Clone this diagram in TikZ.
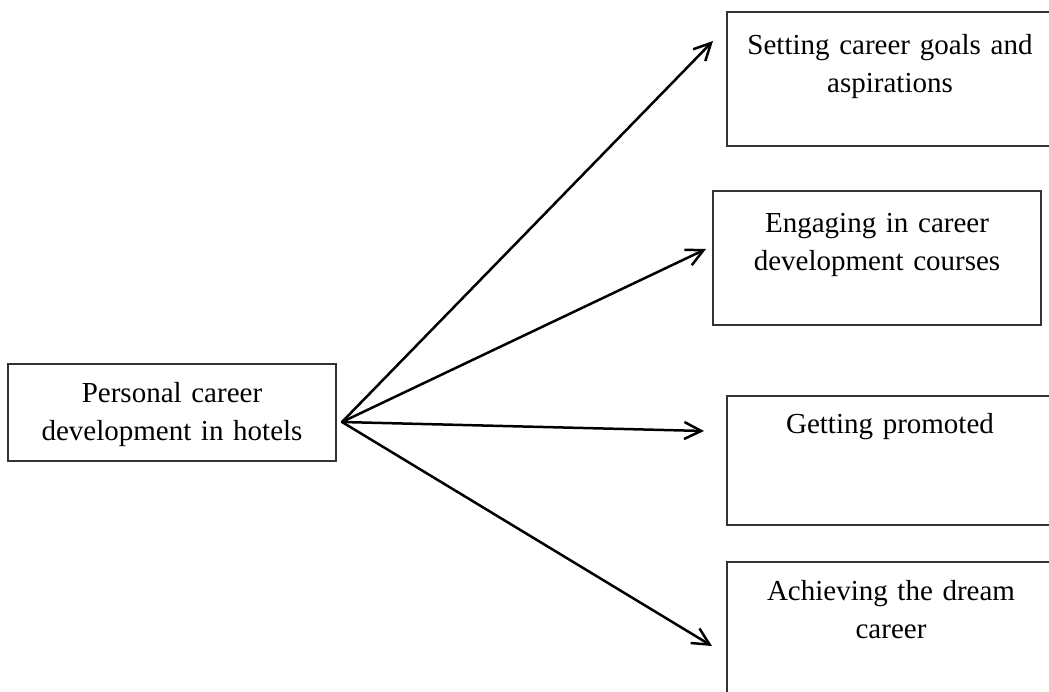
\documentclass[tikz,border=0pt]{standalone}
\usepackage{fontspec}
\setmainfont{Liberation Serif}
\usetikzlibrary{arrows.meta}
\begin{document}
\begin{tikzpicture}[x=1pt,y=-1pt,
  box/.style={draw=black!80, line width=1.3pt, rectangle, inner sep=0pt},
  boxtext/.style={anchor=base, align=center, text width=320pt, inner sep=0pt,
    font=\fontsize{29}{38}\selectfont},
  link/.style={line width=2.5pt, line cap=round, -{Straight Barb[length=17pt,width=17pt]}}]
\useasboundingbox (0,0) rectangle (1049,692);
\clip (0,0) rectangle (1049,692);

% frames
\node[box, minimum width=328pt, minimum height=97pt]  (src) at (172,412.5) {};
\node[box, minimum width=326pt, minimum height=134pt] (b1)  at (890,79) {};
\node[box, minimum width=328pt, minimum height=134pt] (b2)  at (877,258) {};
\node[box, minimum width=326pt, minimum height=129pt] (b3)  at (890,460.5) {};
\node[box, minimum width=326pt, minimum height=138pt] (b4)  at (890,631) {};

% texts
\node[boxtext] (srct) at (172,402) {Personal career\\development in hotels};
\node[boxtext] (t1) at (890,55) {Setting career goals and\\aspirations};
\node[boxtext] (t2) at (877,233) {Engaging in career\\development courses};
\node[boxtext] (t3) at (890,433) {Getting promoted};
\node[boxtext] (t4) at (891,600) {Achieving the dream\\career};

% arrows from the common fork point
\coordinate (fork) at (342,422);
\coordinate (tip1) at (713,41);
\coordinate (tip2) at (706,249);
\coordinate (tip3) at (704,431);
\coordinate (tip4) at (712,646);
\draw[link] (fork) -- (tip1);
\draw[link] (fork) -- (tip2);
\draw[link] (fork) -- (tip3);
\draw[link] (fork) -- (tip4);
\end{tikzpicture}
\end{document}
